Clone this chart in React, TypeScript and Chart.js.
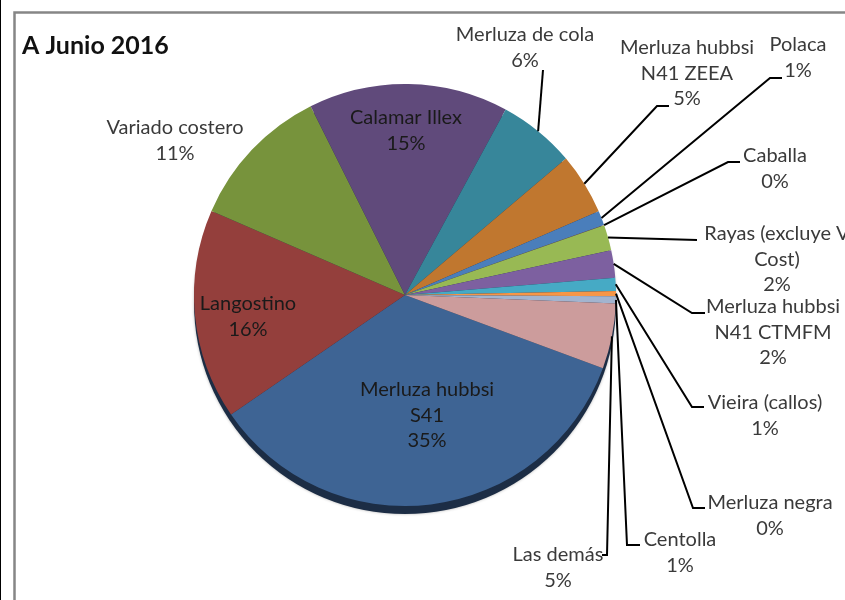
import { useEffect, useRef } from "react";
import { Chart, registerables } from "chart.js";

Chart.register(...registerables);

const title = "A Junio 2016";

const categories: string[][] = [
  ["Merluza hubbsi", "S41"],
  ["Langostino"],
  ["Variado costero"],
  ["Calamar Illex"],
  ["Merluza de cola"],
  ["Merluza hubbsi", "N41 ZEEA"],
  ["Polaca"],
  ["Caballa"],
  ["Rayas (excluye V", "Cost)"],
  ["Merluza hubbsi", "N41 CTMFM"],
  ["Vieira (callos)"],
  ["Merluza negra"],
  ["Centolla"],
  ["Las demás"],
];

const shares = [34.8, 16.1, 11.1, 15.3, 5.9, 4.7, 1.1, 0.03, 1.95, 2.1, 1.0, 0.4, 0.55, 5.0];

const sliceColors = [
  "#3E6494",
  "#943F3C",
  "#77933C",
  "#604A7B",
  "#37869A",
  "#C0772F",
  "#4A7EBB",
  "#BE4B48",
  "#98B954",
  "#7D60A0",
  "#46AAC5",
  "#F79646",
  "#A2B4CF",
  "#CC9C9C",
];

// label placement (layout only): centre x, first line centre y, leader elbow points
type LabelPos = { x: number; y: number; inside?: boolean; leader?: number[][] };
const labelLayout: LabelPos[] = [
  { x: 427, y: 390, inside: true },
  { x: 248, y: 304, inside: true },
  { x: 175, y: 128 },
  { x: 406, y: 118, inside: true },
  { x: 525, y: 35, leader: [[543, 70]] },
  { x: 687, y: 48, leader: [[657, 106], [669, 106]] },
  { x: 798, y: 45, leader: [[770, 78], [782, 78]] },
  { x: 775, y: 156, leader: [[728, 162], [740, 162]] },
  { x: 777, y: 234, leader: [[697, 240]] },
  { x: 773, y: 307, leader: [[692, 313], [705, 313]] },
  { x: 765, y: 403, leader: [[692, 407], [704, 407]] },
  { x: 770, y: 503, leader: [[693, 508], [705, 508]] },
  { x: 680, y: 540, leader: [[627, 545], [640, 545]] },
  { x: 558, y: 555, leader: [[607, 555], [602, 555]] },
];

const LINE_H = 25.5;
const FONT = "20px Lato, 'Noto Sans', sans-serif";

const framePlugin = {
  id: "frame",
  beforeDraw(chart: any) {
    const ctx = chart.ctx as CanvasRenderingContext2D;
    ctx.save();
    ctx.fillStyle = "#000";
    ctx.fillRect(0, 0, 1, chart.height);
    ctx.strokeStyle = "#868686";
    ctx.lineWidth = 2.5;
    ctx.strokeRect(14.5, 12.5, 1000, 1000);
    ctx.fillStyle = "#111";
    ctx.font = "bold 25px Lato, 'Noto Sans', sans-serif";
    ctx.textBaseline = "alphabetic";
    ctx.textAlign = "left";
    ctx.fillText(title, 22, 54);
    ctx.restore();
  },
  beforeDatasetsDraw(chart: any) {
    const ctx = chart.ctx as CanvasRenderingContext2D;
    const arc = chart.getDatasetMeta(0).data[0];
    if (!arc) return;
    const { x, y, outerRadius } = arc.getProps(["x", "y", "outerRadius"], true);
    ctx.save();
    ctx.fillStyle = "#1c2d45";
    ctx.shadowColor = "rgba(0,0,0,0.3)";
    ctx.shadowBlur = 3;
    ctx.beginPath();
    ctx.arc(x, y + 8, outerRadius, 0, Math.PI * 2);
    ctx.fill();
    ctx.restore();
  },
  afterDatasetsDraw(chart: any) {
    const ctx = chart.ctx as CanvasRenderingContext2D;
    const total = shares.reduce((a, b) => a + b, 0);
    const meta = chart.getDatasetMeta(0);
    ctx.save();
    ctx.font = FONT;
    ctx.textAlign = "center";
    ctx.textBaseline = "middle";
    meta.data.forEach((el: any, i: number) => {
      const p = el.getProps(["x", "y", "startAngle", "endAngle", "outerRadius"], true);
      const mid = (p.startAngle + p.endAngle) / 2;
      const L = labelLayout[i];
      if (L.leader) {
        ctx.strokeStyle = "#000";
        ctx.lineWidth = 2;
        ctx.beginPath();
        ctx.moveTo(p.x + Math.cos(mid) * p.outerRadius, p.y + Math.sin(mid) * p.outerRadius);
        L.leader.forEach((q) => ctx.lineTo(q[0], q[1]));
        ctx.stroke();
      }
      const pct = Math.round((shares[i] / total) * 100) + "%";
      const lines = [...categories[i], pct];
      ctx.fillStyle = L.inside ? "#1a1a1a" : "#3a3a3a";
      lines.forEach((t, k) => ctx.fillText(t, L.x, L.y + k * LINE_H));
    });
    ctx.restore();
  },
};

export default function App() {
  const ref = useRef<HTMLCanvasElement | null>(null);
  useEffect(() => {
    if (!ref.current) return;
    const chart = new Chart(ref.current, {
      type: "pie",
      data: {
        labels: categories.map((c) => c.join(" ")),
        datasets: [
          {
            data: shares,
            backgroundColor: sliceColors,
            borderWidth: 0,
            offset: 0,
            hoverOffset: 0,
          },
        ],
      },
      options: {
        responsive: false,
        animation: false,
        devicePixelRatio: 1,
        rotation: 110.3,
        layout: { padding: { left: 194, right: 229, top: 84, bottom: 94 } },
        plugins: {
          legend: { display: false },
          tooltip: { enabled: false },
          title: { display: false },
        },
        events: [],
      },
      plugins: [framePlugin],
    } as any);
    return () => chart.destroy();
  }, []);
  return (
    <div style={{ position: "fixed", left: 0, top: 0, width: 845, height: 600, background: "#fff" }}>
      <canvas ref={ref} width={845} height={600} style={{ display: "block" }} />
    </div>
  );
}
